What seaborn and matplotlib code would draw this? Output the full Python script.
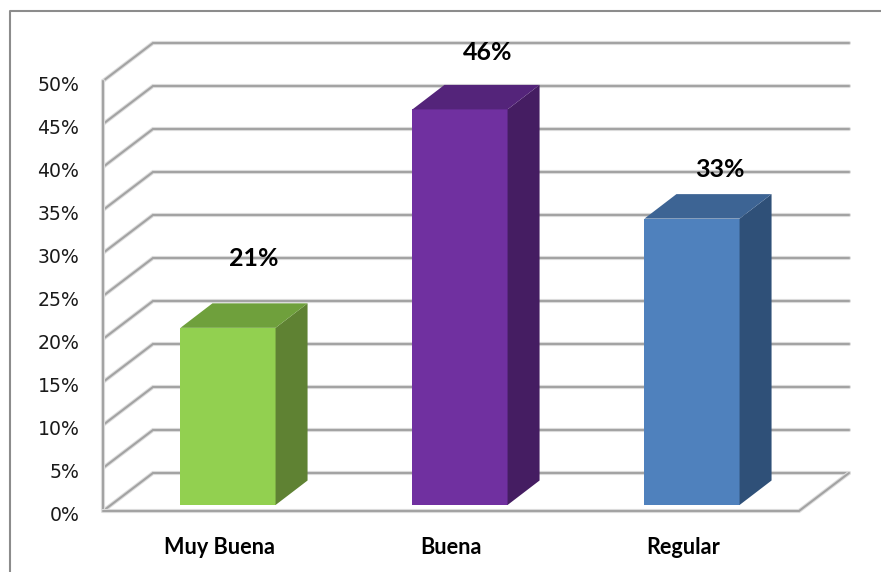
# -*- coding: utf-8 -*-
import matplotlib
matplotlib.use('Agg')
import matplotlib.pyplot as plt
import matplotlib.patheffects as pe
from matplotlib.lines import Line2D
from matplotlib.patches import Polygon
from matplotlib.transforms import ScaledTranslation
import seaborn as sns

# data
categorias = ['Muy Buena', 'Buena', 'Regular']
valores = [20.6, 46.0, 33.3]
ticks_y = [0, 5, 10, 15, 20, 25, 30, 35, 40, 45, 50]
ticks_y_labels = ['0%', '5%', '10%', '15%', '20%', '25%', '30%', '35%', '40%', '45%', '50%']

# colours: front, top, side
color_frente = ['#92D050', '#7030A0', '#4F81BD']
color_arriba = ['#6FA03C', '#54247A', '#3D6494']
color_lado = ['#5F8233', '#451D62', '#2F5078']
color_linea = '#A3A3A3'

W, H = 881, 572
fig = plt.figure(figsize=(W / 100, H / 100), dpi=100)
sns.set_style('white')

# front plane of the 3D box, in pixels
left, right, top, bottom = 103, 799, 81, 511
ax = fig.add_axes([left / W, 1 - bottom / H, (right - left) / W, (bottom - top) / H])
ax.patch.set_alpha(0)

px_x = (right - left) / 3
px_y = (bottom - top) / 50

# depth of the walls and of the bars
wall_dx, wall_dy = 50 / px_x, 38 / px_y
bar_off_x, bar_off_y = 9 / px_x, 6 / px_y
bar_dx, bar_dy = 32 / px_x, 24.5 / px_y

halo = [pe.withStroke(linewidth=3, foreground='#DEDEDE')]

# grid on the walls
for t in ticks_y:
    ax.plot([-0.5, -0.5 + wall_dx, 2.5 + wall_dx], [t, t + wall_dy, t + wall_dy],
            color=color_linea, lw=1.5, clip_on=False, zorder=1, solid_joinstyle='miter',
            path_effects=halo)
ax.plot([-0.5, -0.5], [0, 50], color=color_linea, lw=1.5, clip_on=False, zorder=1, path_effects=halo)
ax.plot([-0.5, 2.5, 2.5 + wall_dx], [0, 0, wall_dy], color=color_linea, lw=1.5,
        clip_on=False, zorder=1, solid_joinstyle='miter', path_effects=halo)

sns.barplot(x=categorias, y=valores, hue=categorias, palette=color_frente, saturation=1,
            width=0.41, legend=False, ax=ax, zorder=3, linewidth=0, edgecolor='none')

offset_labels = [(26, 69), (28, 57), (28, 49)]

for i, bar in enumerate(ax.patches[:3]):
    bar.set_x(bar.get_x() + bar_off_x)
    bar.set_y(bar_off_y)
    bar.set_clip_on(False)
    x0 = bar.get_x()
    x1 = x0 + bar.get_width()
    y0 = bar_off_y
    y1 = y0 + valores[i]
    ax.add_patch(Polygon([(x1, y0), (x1 + bar_dx, y0 + bar_dy), (x1 + bar_dx, y1 + bar_dy), (x1, y1)],
                         closed=True, fc=color_lado[i], ec='none', clip_on=False, zorder=3))
    ax.add_patch(Polygon([(x0, y1), (x0 + bar_dx, y1 + bar_dy), (x1 + bar_dx, y1 + bar_dy), (x1, y1)],
                         closed=True, fc=color_arriba[i], ec='none', clip_on=False, zorder=3))
    ax.annotate('%.0f%%' % valores[i], xy=((x0 + x1) / 2, y1),
                xytext=(offset_labels[i][0] * 0.72, offset_labels[i][1] * 0.72),
                textcoords='offset points', ha='center', va='center',
                fontsize=18, fontweight='bold', family='Lato', color='black', zorder=5)

ax.set_xlim(-0.5, 2.5)
ax.set_ylim(0, 50)
sns.despine(ax=ax, left=True, bottom=True, top=True, right=True)

ax.set_yticks(ticks_y)
ax.set_yticklabels(ticks_y_labels, fontsize=13.6, color='#1A1A1A')
ax.tick_params(axis='y', length=0, pad=17)
for lab in ax.get_yticklabels():
    lab.set_fontfamily('DejaVu Sans')
    lab.set_transform(lab.get_transform() + ScaledTranslation(0, -2.5 / 100, fig.dpi_scale_trans))

ax.set_xticks([0, 1, 2])
ax.set_xticklabels(categorias, fontsize=15.6, fontweight='bold', family='Lato', color='black')
ax.tick_params(axis='x', length=0, pad=19)
ax.set_xlabel('')
ax.set_ylabel('')

# outer border of the chart area, only top and left show
fig.add_artist(Line2D([9.5 / W, 9.5 / W, 1], [0, 1 - 10.5 / H, 1 - 10.5 / H], color='#8C8C8C', lw=1.5,
                      transform=fig.transFigure))

fig.savefig('out.png', dpi=100)
